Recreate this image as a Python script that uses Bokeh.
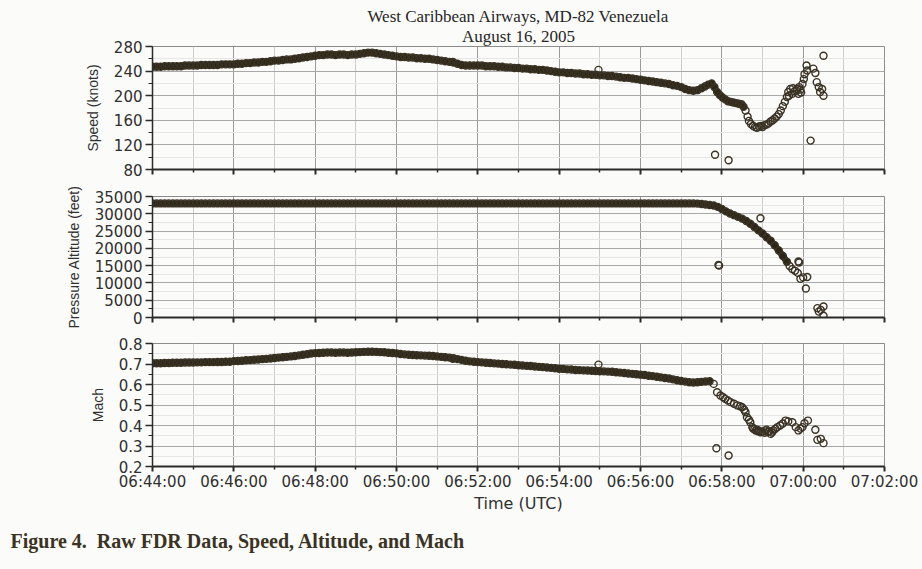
from datetime import datetime

from bokeh.plotting import figure
from bokeh.layouts import column
from bokeh.models import (ColumnDataSource, Range1d, FixedTicker, DatetimeTickFormatter,
                          CustomJSTickFormatter, Title)
from bokeh.embed import file_html
from bokeh.resources import INLINE

# ---------------------------------------------------------------- data ----
# Time axis (UTC)
tick_labels = ["06:44:00", "06:46:00", "06:48:00", "06:50:00", "06:52:00",
               "06:54:00", "06:56:00", "06:58:00", "07:00:00", "07:02:00"]
minor_tick_labels = ["06:45:00", "06:47:00", "06:49:00", "06:51:00", "06:53:00",
                     "06:55:00", "06:57:00", "06:59:00", "07:01:00"]

# Cruise segment: one record every 6 s from 06:44:00 to 06:57:00 (seconds after 06:44:00)
cruise_sec = list(range(0, 781, 6))

speed_cruise = [
    247, 247, 247, 248, 248, 248, 248, 248, 249, 249,   # 06:44
    249, 249, 250, 250, 250, 250, 250, 251, 251, 251,   # 06:45
    251, 252, 252, 253, 253, 254, 254, 255, 255, 256,   # 06:46
    257, 257, 258, 259, 259, 260, 261, 262, 263, 264,   # 06:47
    265, 266, 266, 267, 267, 266, 267, 267, 266, 267,   # 06:48
    267, 268, 269, 270, 270, 269, 268, 267, 266, 265,   # 06:49
    264, 263, 263, 262, 262, 261, 261, 260, 260, 259,   # 06:50
    258, 257, 256, 255, 254, 252, 250, 249, 249, 249,   # 06:51
    249, 249, 248, 248, 248, 247, 247, 246, 246, 245,   # 06:52
    245, 244, 244, 243, 243, 242, 242, 241, 240, 239,   # 06:53
    238, 238, 237, 237, 236, 236, 235, 235, 234, 234,   # 06:54
    233, 233, 232, 232, 231, 230, 229, 229, 228, 227,   # 06:55
    226, 225, 224, 223, 222, 221, 220, 219, 217, 216,   # 06:56
    214,                                                # 06:57:00
]

alt_cruise = [
    33000, 33000, 33000, 33000, 33000, 33000, 33000, 33000, 33000, 33000,
    33000, 33000, 33000, 33000, 33000, 33000, 33000, 33000, 33000, 33000,
    33000, 33000, 33000, 33000, 33000, 33000, 33000, 33000, 33000, 33000,
    33000, 33000, 33000, 33000, 33000, 33000, 33000, 33000, 33000, 33000,
    33000, 33000, 33000, 33000, 33000, 33000, 33000, 33000, 33000, 33000,
    33000, 33000, 33000, 33000, 33000, 33000, 33000, 33000, 33000, 33000,
    33000, 33000, 33000, 33000, 33000, 33000, 33000, 33000, 33000, 33000,
    33000, 33000, 33000, 33000, 33000, 33000, 33000, 33000, 33000, 33000,
    33000, 33000, 33000, 33000, 33000, 33000, 33000, 33000, 33000, 33000,
    33000, 33000, 33000, 33000, 33000, 33000, 33000, 33000, 33000, 33000,
    33000, 33000, 33000, 33000, 33000, 33000, 33000, 33000, 33000, 33000,
    33000, 33000, 33000, 33000, 33000, 33000, 33000, 33000, 33000, 33000,
    33000, 33000, 33000, 33000, 33000, 33000, 33000, 33000, 33000, 33000,
    33000,
]

mach_cruise = [
    .704, .704, .704, .705, .705, .706, .706, .706, .707, .707,   # 06:44
    .707, .708, .708, .709, .709, .709, .710, .710, .711, .711,   # 06:45
    .714, .715, .716, .718, .719, .721, .722, .724, .725, .727,   # 06:46
    .729, .731, .733, .735, .737, .739, .742, .745, .748, .751,   # 06:47
    .753, .754, .755, .756, .756, .755, .756, .756, .755, .756,   # 06:48
    .757, .758, .759, .760, .760, .759, .758, .757, .755, .754,   # 06:49
    .752, .749, .747, .745, .744, .743, .742, .741, .740, .739,   # 06:50
    .737, .735, .733, .731, .728, .724, .720, .716, .713, .711,   # 06:51
    .709, .708, .706, .705, .703, .702, .700, .699, .697, .696,   # 06:52
    .694, .693, .691, .690, .688, .686, .685, .683, .681, .679,   # 06:53
    .677, .676, .674, .673, .671, .670, .669, .668, .667, .666,   # 06:54
    .665, .664, .663, .662, .660, .658, .656, .654, .652, .650,   # 06:55
    .648, .646, .643, .641, .638, .635, .632, .629, .625, .621,   # 06:56
    .617,                                                         # 06:57:00
]

# Upset and descent: 06:57:06 onwards (seconds after 06:44:00)
speed_tail_sec = [786, 792, 798, 804, 810, 815, 820, 825, 829, 833,
                  837, 841, 845, 849, 853, 857, 861, 865, 869, 872,
                  875, 878, 880, 883, 886, 889, 892, 895, 898, 900,
                  903, 906, 909, 912, 915, 918, 921, 924, 927, 930,
                  933, 936, 938, 939, 941, 944, 945, 947, 950, 951,
                  953, 954, 956, 957, 959, 961, 962, 965, 966, 975,
                  978, 980, 983, 985, 988, 990]
speed_tail = [211, 209, 208, 209, 212, 215, 218, 220, 214, 206,
              201, 197, 194, 191, 190, 189, 188, 187, 186, 182,
              176, 166, 159, 154, 151, 149, 148, 150, 151, 149,
              152, 153, 155, 158, 160, 163, 166, 170, 176, 183,
              190, 198, 206, 200, 211, 203, 212, 207, 208, 211,
              203, 214, 210, 205, 219, 227, 235, 249, 241, 244,
              237, 222, 214, 206, 211, 200]

alt_tail_sec = [786, 792, 798, 804, 810, 816, 822, 828, 834, 840,
                846, 852, 858, 864, 870, 876, 882, 888, 894, 900,
                906, 912, 918, 924, 930, 936, 940, 944, 948, 952,
                956, 960, 964, 966, 981, 983, 986, 990, 990]
alt_tail = [33000, 33000, 33000, 32950, 32850, 32700, 32550, 32400, 32000, 31400,
            30700, 30100, 29600, 29100, 28600, 27900, 27100, 26200, 25200, 24300,
            23200, 22200, 20900, 19400, 17800, 16100, 14900, 14000, 13500, 12900,
            11200, 11600, 8400, 11700, 2700, 1700, 2200, 500, 3200]

mach_tail_sec = [786, 792, 798, 804, 810, 816, 822, 828, 833, 838,
                 842, 845, 849, 853, 858, 863, 867, 870, 873, 875,
                 877, 880, 882, 885, 886, 888, 890, 892, 893, 895,
                 897, 900, 903, 904, 906, 908, 910, 912, 914, 916,
                 919, 922, 926, 930, 934, 938, 944, 949, 953, 956,
                 959, 962, 967, 978, 981, 986, 990]
mach_tail = [.614, .611, .610, .611, .613, .615, .616, .603, .562, .546,
             .538, .530, .522, .514, .506, .498, .494, .489, .477, .465,
             .440, .428, .416, .392, .385, .382, .376, .380, .372, .375,
             .367, .370, .365, .376, .380, .368, .372, .359, .366, .376,
             .384, .392, .400, .410, .424, .420, .416, .392, .376, .385,
             .392, .411, .424, .379, .330, .335, .314]

# Isolated spurious samples
speed_odd_sec = [443, 658, 830, 850, 971, 990]
speed_odd = [255, 242, 104, 95, 127, 265]
alt_odd_sec = [835, 836, 897, 953, 954]
alt_odd = [15200, 15000, 28700, 16200, 15900]
mach_odd_sec = [443, 658, 832, 850]
mach_odd = [.725, .697, .289, .254]

speed_ticks = [80, 120, 160, 200, 240, 280]
speed_minor = [100, 140, 180, 220, 260]
alt_ticks = [0, 5000, 10000, 15000, 20000, 25000, 30000, 35000]
alt_minor = [2500, 7500, 12500, 17500, 22500, 27500, 32500]
mach_ticks = [0.2, 0.3, 0.4, 0.5, 0.6, 0.7, 0.8]
mach_minor = [0.25, 0.35, 0.45, 0.55, 0.65, 0.75]

# ------------------------------------------------------------- helpers ----
EPOCH = datetime(1970, 1, 1)
DAY = datetime(2005, 8, 16)


def hms_ms(hms):
    h, m, s = (int(v) for v in hms.split(":"))
    return (DAY.replace(hour=h, minute=m, second=s) - EPOCH).total_seconds() * 1000.0


T0_MS = hms_ms("06:44:00")


def sec_ms(secs):
    return [T0_MS + s * 1000.0 for s in secs]


BG = "#fbfbf9"
INK = "#2f2f2f"
MARK = "#3a3224"
BAND = "#2b2516"
SANS = "DejaVu Sans"
LABEL_SANS = "Liberation Sans"
SERIF = "Liberation Serif"

x_ticker = FixedTicker(ticks=[hms_ms(t) for t in tick_labels],
                       minor_ticks=[hms_ms(t) for t in minor_tick_labels])
fmt = "%H:%M:%S"
x_fmt = DatetimeTickFormatter(microseconds=fmt, milliseconds=fmt, seconds=fmt,
                              minsec=fmt, minutes=fmt, hourmin=fmt, hours=fmt,
                              days=fmt, months=fmt, years=fmt)
x_range = Range1d(start=hms_ms(tick_labels[0]), end=hms_ms(tick_labels[-1]))


def panel(ylabel, y0, y1, yticks, yminor, frame_h, top, bottom,
          main_sec, main_val, odd_sec, odd_val, band_end):
    p = figure(width=922, frame_width=732, frame_height=frame_h,
               x_axis_type="datetime", x_range=x_range,
               y_range=Range1d(y0, y1),
               min_border_left=152, min_border_right=38,
               min_border_top=top, min_border_bottom=bottom,
               output_backend="svg", toolbar_location=None)
    p.background_fill_color = BG
    p.border_fill_color = BG
    p.outline_line_color = "#8c8c8c"
    p.outline_line_width = 1

    # densely sampled stretch merges into a solid trace
    band_sec = [s for s in main_sec if s <= band_end]
    band_val = [v for s, v in zip(main_sec, main_val) if s <= band_end]
    p.line(sec_ms(band_sec), band_val, line_color=BAND, line_width=6.5,
           line_join="round", line_cap="round")

    src = ColumnDataSource(dict(x=sec_ms(main_sec) + sec_ms(odd_sec),
                                y=list(main_val) + list(odd_val)))
    p.scatter("x", "y", source=src, marker="circle", size=7,
              line_color=MARK, line_width=1.4, fill_color=None)

    xa = p.xaxis[0]
    xa.ticker = x_ticker
    xa.formatter = x_fmt
    xa.axis_line_color = "#2a2a2a"
    xa.axis_line_width = 2
    xa.major_tick_line_color = "#2a2a2a"
    xa.major_tick_line_width = 2
    xa.major_tick_in = 0
    xa.major_tick_out = 5
    xa.minor_tick_line_color = "#2a2a2a"
    xa.minor_tick_line_width = 1.5
    xa.minor_tick_in = 0
    xa.minor_tick_out = 3
    xa.major_label_text_font = SANS
    xa.major_label_text_font_size = "15px"
    xa.major_label_text_color = INK
    xa.major_label_standoff = 1

    ya = p.yaxis[0]
    ya.ticker = FixedTicker(ticks=yticks, minor_ticks=yminor)
    ya.axis_label = ylabel
    ya.axis_label_text_font = LABEL_SANS
    ya.axis_label_text_font_size = "14px"
    ya.axis_label_text_font_style = "normal"
    ya.axis_label_text_color = INK
    ya.axis_label_standoff = 10
    ya.axis_line_color = "#2a2a2a"
    ya.axis_line_width = 1.5
    ya.major_tick_line_color = "#2a2a2a"
    ya.major_tick_line_width = 1.5
    ya.major_tick_in = 0
    ya.major_tick_out = 7
    ya.minor_tick_line_color = "#2a2a2a"
    ya.minor_tick_in = 0
    ya.minor_tick_out = 4
    ya.major_label_text_font = SANS
    ya.major_label_text_font_size = "15px"
    ya.major_label_text_color = INK
    ya.major_label_standoff = 3

    p.xgrid.grid_line_color = "#9a9a9a"
    p.xgrid.grid_line_width = 1
    p.xgrid.minor_grid_line_color = "#cdcdcd"
    p.xgrid.minor_grid_line_width = 1
    p.ygrid.grid_line_color = "#a8a8a8"
    p.ygrid.grid_line_width = 1
    p.ygrid.minor_grid_line_color = "#e6e6e6"
    p.ygrid.minor_grid_line_width = 1
    return p


p_speed = panel("Speed (knots)", 80, 280, speed_ticks, speed_minor, 123, 46, 11,
                cruise_sec + speed_tail_sec, speed_cruise + speed_tail,
                speed_odd_sec, speed_odd, 872)
p_alt = panel("Pressure Altitude (feet)", 0, 35000, alt_ticks, alt_minor, 121, 16, 13,
              cruise_sec + alt_tail_sec, alt_cruise + alt_tail,
              alt_odd_sec, alt_odd, 936)
p_mach = panel("Mach", 0.2, 0.8, mach_ticks, mach_minor, 123, 13, 103,
               cruise_sec + mach_tail_sec, mach_cruise + mach_tail,
               mach_odd_sec, mach_odd, 822)

# upper panels carry tick marks only
for p in (p_speed, p_alt):
    p.xaxis[0].formatter = CustomJSTickFormatter(code="return ''")
    p.xaxis[0].major_label_standoff = 0

xa = p_mach.xaxis[0]
xa.axis_label = "Time (UTC)"
xa.axis_label_text_font = SANS
xa.axis_label_text_font_size = "16px"
xa.axis_label_text_font_style = "normal"
xa.axis_label_text_color = INK
xa.axis_label_standoff = 0

# chart heading
p_speed.add_layout(Title(text="August 16, 2005", align="center", text_font=SERIF,
                         text_font_size="17px", text_font_style="normal",
                         text_color="#262626", standoff=2), "above")
p_speed.add_layout(Title(text="West Caribbean Airways, MD-82 Venezuela", align="center",
                         text_font=SERIF, text_font_size="17px", text_font_style="normal",
                         text_color="#262626", standoff=-4), "above")

# figure caption
p_mach.add_layout(Title(text="Figure 4.\u00a0 Raw FDR Data, Speed, Altitude, and Mach",
                        align="left", offset=-142, text_font=SERIF,
                        text_font_size="20px", text_font_style="bold",
                        text_color="#3a3324", standoff=24), "below")

layout = column(p_speed, p_alt, p_mach, spacing=0, background=BG)

with open("out.html", "w") as f:
    f.write(file_html(layout, INLINE))
